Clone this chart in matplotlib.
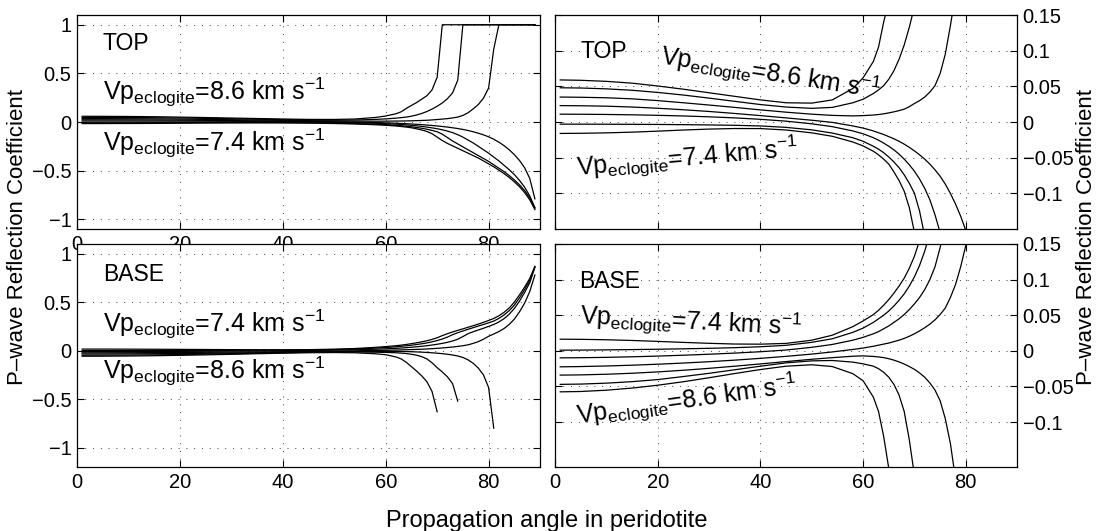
import numpy as np
import matplotlib.pyplot as plt

plt.rcParams['font.family'] = ['Liberation Sans', 'DejaVu Sans']
plt.rcParams['mathtext.fontset'] = 'custom'
plt.rcParams['mathtext.rm'] = 'Liberation Sans'
plt.rcParams['mathtext.it'] = 'Liberation Sans:italic'
plt.rcParams['mathtext.bf'] = 'Liberation Sans:bold'

# propagation angle in peridotite (deg)
angle = [1, 5, 10, 15, 20, 25, 30, 35, 40, 45, 50, 54, 58, 60, 62,
         63, 64, 65, 66, 67, 68, 69, 70, 71, 72, 73, 74, 75, 76, 77,
         78, 79, 80, 81, 82, 83, 84, 85, 86, 87, 88, 89]

vp_eclogite = [7.4, 7.6, 7.8, 8.0, 8.2, 8.4, 8.6]

# P-wave reflection coefficient, top of the eclogite body
top_74 = [-.016, -.0158, -.0152, -.0142, -.0128, -.0112, -.0099, -.0091, -.0092, -.0112, -.0152, -.02, -.028, -.0335, -.041,
          -.046, -.052, -.059, -.07, -.082, -.097, -.12, -.155, -.19, -.22, -.245, -.27, -.295, -.32, -.345,
          -.37, -.40, -.43, -.46, -.495, -.53, -.57, -.615, -.665, -.725, -.80, -.90]
top_76 = [-.003, -.003, -.0031, -.0032, -.0034, -.0037, -.0041, -.0046, -.0055, -.0075, -.011, -.0155, -.022, -.027, -.034,
          -.038, -.043, -.049, -.056, -.064, -.074, -.086, -.10, -.125, -.16, -.195, -.225, -.255, -.285, -.315,
          -.345, -.375, -.405, -.44, -.475, -.51, -.55, -.595, -.645, -.705, -.78, -.885]
top_78 = [.011, .0109, .0106, .0101, .0094, .0085, .0073, .0058, .0038, .0012, -.0025, -.0065, -.0125, -.0165, -.022,
          -.0255, -.0295, -.034, -.039, -.045, -.052, -.06, -.069, -.08, -.093, -.109, -.13, -.155, -.185, -.215,
          -.25, -.285, -.32, -.36, -.40, -.445, -.49, -.54, -.60, -.67, -.76, -.88]
top_80 = [.023, .0228, .0222, .021, .0193, .0172, .0148, .012, .009, .0058, .0025, -.0005, -.0055, -.0085, -.0125,
          -.015, -.0175, -.0205, -.0235, -.027, -.031, -.0355, -.0405, -.046, -.052, -.059, -.067, -.076, -.087, -.10,
          -.115, -.132, -.152, -.177, -.207, -.243, -.285, -.335, -.395, -.47, -.58, -.79]
top_82 = [.035, .0347, .034, .0325, .030, .027, .0238, .0205, .017, .0138, .011, .0093, .0086, .009, .0098,
          .0105, .0115, .0128, .0143, .016, .018, .0215, .026, .03, .035, .042, .051, .068, .095, .135,
          .18, .245, .35, .75] + [1.0] * 8
top_84 = [.048, .0477, .0465, .0445, .0415, .0378, .0335, .029, .0245, .021, .0192, .0205, .027, .032, .04,
          .045, .051, .06, .072, .088, .108, .133, .162, .196, .24, .30, .43] + [1.0] * 15
top_86 = [.059, .0585, .057, .0545, .0505, .046, .041, .036, .031, .027, .0265, .031, .047, .062, .085,
          .105, .14, .17, .20, .235, .27, .33, .46] + [1.0] * 19

# P-wave reflection coefficient, base of the eclogite body
base_74 = [.0164, .0162, .0156, .0146, .0133, .0119, .0106, .0096, .0094, .0105, .015, .022, .034, .042, .051,
           .057, .064, .072, .081, .091, .102, .116, .133, .155, .175, .193, .209, .225, .241, .257,
           .274, .292, .311, .332, .36, .395, .44, .50, .575, .655, .745, .87]
base_76 = [.001, .0011, .0014, .0018, .0023, .0029, .0036, .0045, .0058, .0078, .012, .017, .026, .032, .04,
           .045, .05, .056, .063, .071, .08, .091, .104, .12, .14, .165, .185, .203, .22, .237,
           .254, .27, .287, .305, .333, .368, .412, .47, .545, .63, .725, .865]
base_78 = [-.0098, -.0096, -.0091, -.0083, -.0073, -.0061, -.0047, -.0031, -.0012, .0012, .005, .009, .015, .019, .024,
           .027, .031, .035, .04, .045, .051, .058, .066, .075, .086, .10, .118, .145, .175, .195,
           .213, .231, .25, .27, .296, .33, .375, .435, .51, .60, .70, .86]
base_80 = [-.0224, -.022, -.0212, -.0201, -.0187, -.0171, -.0152, -.013, -.0105, -.0077, -.0045, -.0015, .002, .004, .0065,
           .008, .0095, .011, .013, .015, .0175, .0205, .024, .028, .0325, .0375, .0435, .051, .06, .075,
           .093, .118, .148, .172, .197, .228, .27, .325, .40, .49, .61, .78]
base_82 = [-.034, -.0337, -.0328, -.0314, -.0295, -.0272, -.0245, -.0215, -.0183, -.015, -.0118, -.0095, -.0075, -.007, -.0078,
           -.0085, -.0095, -.011, -.013, -.0155, -.0185, -.022, -.026, -.031, -.037, -.045, -.055, -.07, -.095, -.13,
           -.18, -.25, -.38, -.80] + [np.nan] * 8
base_84 = [-.047, -.0466, -.0453, -.0432, -.0403, -.036, -.0315, -.0265, -.0215, -.0168, -.014, -.0135, -.0158, -.0182, -.0215,
           -.025, -.03, -.037, -.047, -.062, -.085, -.125, -.175, -.22, -.27, -.34, -.52] + [np.nan] * 15
base_86 = [-.0575, -.057, -.0552, -.0522, -.0482, -.0433, -.0377, -.0318, -.0262, -.0215, -.0195, -.022, -.032, -.042, -.065,
           -.085, -.12, -.165, -.21, -.26, -.32, -.42, -.63] + [np.nan] * 19

top_curves = [top_74, top_76, top_78, top_80, top_82, top_84, top_86]
base_curves = [base_74, base_76, base_78, base_80, base_82, base_84, base_86]

x_ticks = [0, 20, 40, 60, 80]
full_ticks = [-1, -0.5, 0, 0.5, 1]
full_labels = ['\u22121', '\u22120.5', '0', '0.5', '1']
zoom_ticks = [-0.1, -0.05, 0, 0.05, 0.1, 0.15]
zoom_labels = ['\u22120.1', '\u22120.05', '0', '0.05', '0.1', '0.15']


def style_axes(ax, ylim, yticks, ylabels, right=False, xlabels=True):
    ax.set_xlim(0, 90)
    ax.set_ylim(*ylim)
    ax.set_xticks(x_ticks)
    ax.set_yticks(yticks)
    ax.set_yticklabels(ylabels)
    ax.grid(True, linestyle=(0, (1, 7)), linewidth=0.7, color='0.25')
    ax.tick_params(direction='in', length=5, width=0.8, labelsize=14.5, pad=4,
                   top=True, right=True, bottom=True, left=True,
                   labelbottom=xlabels, labelleft=not right, labelright=right)
    for s in ax.spines.values():
        s.set_linewidth(0.9)


fig = plt.figure(figsize=(10.97, 5.31), dpi=100)
ax_tl = fig.add_axes([0.0702, 0.5687, 0.4221, 0.4030])
ax_tr = fig.add_axes([0.5060, 0.5687, 0.4212, 0.4030])
ax_bl = fig.add_axes([0.0702, 0.1205, 0.4221, 0.4200])
ax_br = fig.add_axes([0.5060, 0.1205, 0.4212, 0.4200])

for ax in (ax_tl, ax_tr):
    for r in top_curves:
        ax.plot(angle, r, color='k', lw=0.9)
for ax in (ax_bl, ax_br):
    for r in base_curves:
        ax.plot(angle, r, color='k', lw=0.9)

style_axes(ax_tl, (-1.1, 1.1), full_ticks, full_labels)
style_axes(ax_tr, (-0.15, 0.15), zoom_ticks, zoom_labels, right=True, xlabels=False)
style_axes(ax_bl, (-1.2, 1.1), full_ticks, full_labels)
style_axes(ax_br, (-0.163, 0.15), zoom_ticks, zoom_labels, right=True)

lab_86 = r'Vp$_{\mathrm{eclogite}}$=8.6 km s$^{-1}$'
lab_74 = r'Vp$_{\mathrm{eclogite}}$=7.4 km s$^{-1}$'
fs_lab = 18
fs_tag = 16.5

ax_tl.text(5, 0.81, 'TOP', fontsize=fs_tag, va='center')
ax_tl.text(5, 0.23, lab_86, fontsize=fs_lab, va='baseline')
ax_tl.text(5, -0.30, lab_74, fontsize=fs_lab, va='baseline')

ax_bl.text(5, 0.79, 'BASE', fontsize=fs_tag, va='center')
ax_bl.text(5, 0.195, lab_74, fontsize=fs_lab, va='baseline')
ax_bl.text(5, -0.29, lab_86, fontsize=fs_lab, va='baseline')

ax_tr.text(4.9, 0.0995, 'TOP', fontsize=fs_tag, va='center')
ax_tr.text(20.4, 0.081, lab_86, fontsize=fs_lab, va='baseline',
           rotation=-9, rotation_mode='anchor')
ax_tr.text(4.3, -0.076, lab_74, fontsize=fs_lab, va='baseline',
           rotation=5, rotation_mode='anchor')

ax_br.text(4.7, 0.097, 'BASE', fontsize=fs_tag, va='center')
ax_br.text(4.8, 0.038, lab_74, fontsize=fs_lab, va='baseline',
           rotation=-3, rotation_mode='anchor')
ax_br.text(4.5, -0.102, lab_86, fontsize=fs_lab, va='baseline',
           rotation=8, rotation_mode='anchor')

fig.text(547 / 1097, 1 - 521 / 531, 'Propagation angle in peridotite',
         fontsize=17, ha='center', va='center')
fig.text(18 / 1097, 1 - 237 / 531, 'P\u2013wave Reflection Coefficient',
         fontsize=16, ha='center', va='center', rotation=90)
fig.text(1087 / 1097, 1 - 237 / 531, 'P\u2013wave Reflection Coefficient',
         fontsize=16, ha='center', va='center', rotation=90)

fig.savefig('out.png', dpi=100)
